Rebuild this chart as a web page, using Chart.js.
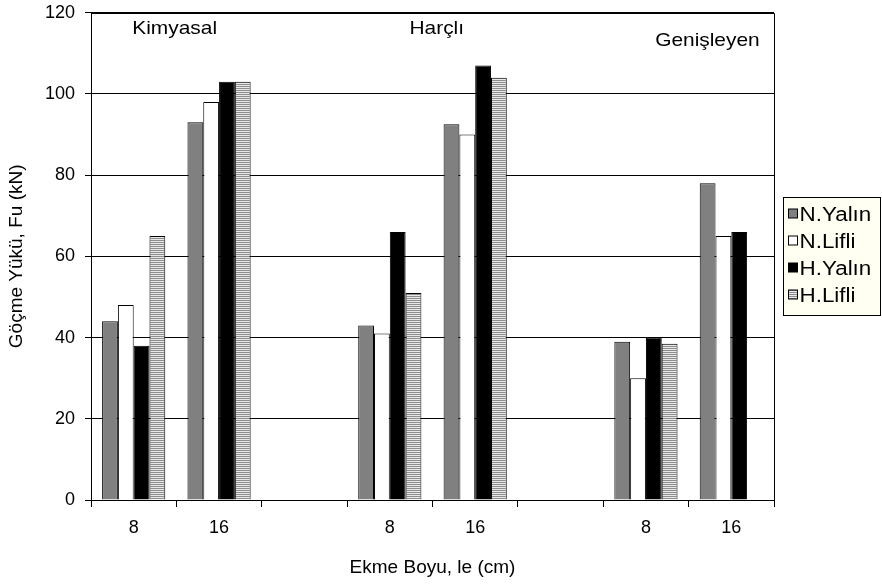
<!DOCTYPE html>
<html>
<head>
<meta charset="utf-8">
<script src="https://cdn.jsdelivr.net/npm/chart.js@4/dist/chart.umd.min.js"></script>
<style>
  html, body { margin: 0; padding: 0; background: #fff; }
  #wrap { width: 882px; height: 585px; position: relative; }
</style>
</head>
<body>
<div id="wrap"><canvas id="c" width="882" height="585"></canvas></div>
<script>
// Anchorage length categories (cm); empty slots separate the three anchor types
const categories = ['8', '16', '', '8', '16', '', '8', '16'];

// Failure load Fu (kN) per series
const nYalin = [44, 93, null, 43, 92.5, null, 39, 78];
const nLifli = [48, 98, null, 41, 90, null, 30, 65];
const hYalin = [38, 103, null, 66, 107, null, 40, 66];
const hLifli = [65, 103, null, 51, 104, null, 38.5, null];

const seriesNames = ['N.Yalın', 'N.Lifli', 'H.Yalın', 'H.Lifli'];
const groupNames = ['Kimyasal', 'Harçlı', 'Genişleyen'];
const yTicks = [0, 20, 40, 60, 80, 100, 120];

const FONT = '"Liberation Sans", Arial, sans-serif';

// Horizontal grey stripe fill
function stripeFill() {
  const c = document.createElement('canvas');
  c.width = 4; c.height = 2;
  const g = c.getContext('2d');
  g.fillStyle = '#e8e8e8'; g.fillRect(0, 0, 4, 2);
  g.fillStyle = '#8e8e8e'; g.fillRect(0, 0, 4, 1);
  return g.createPattern(c, 'repeat');
}
const stripes = stripeFill();
const fills = ['#808080', '#ffffff', '#000000', stripes];

// Text drawn slightly widened, anchored at (x, y)
function wideText(ctx, text, x, y, sx) {
  ctx.save();
  ctx.translate(x, y);
  ctx.scale(sx, 1);
  ctx.fillText(text, 0, 0);
  ctx.restore();
}

// Frame around the plot area plus the group captions
const framePlugin = {
  id: 'frame',
  afterDatasetsDraw(chart) {
    const { ctx, chartArea: a, scales } = chart;
    ctx.save();
    ctx.strokeStyle = '#000';
    ctx.lineWidth = 1;
    ctx.beginPath();
    ctx.moveTo(Math.round(a.left) + 0.5, Math.round(a.top) + 0.5);
    ctx.lineTo(Math.round(a.right) + 0.5, Math.round(a.top) + 0.5);
    ctx.lineTo(Math.round(a.right) + 0.5, Math.round(a.bottom) + 0.5);
    ctx.stroke();

    ctx.fillStyle = '#000';
    ctx.font = '19px ' + FONT;
    ctx.textAlign = 'center';
    ctx.textBaseline = 'middle';
    const spots = [[0.48, 116], [3.55, 116], [6.72, 113]];
    groupNames.forEach((t, i) => {
      wideText(ctx, t, scales.x.getPixelForValue(spots[i][0]), scales.y.getPixelForValue(spots[i][1]), 1.1);
    });
    ctx.restore();
  }
};

// Boxed legend on the right
const legendPlugin = {
  id: 'boxLegend',
  afterDraw(chart) {
    const { ctx, chartArea: a } = chart;
    const x0 = Math.round(a.right) + 9.5, y0 = 197.5, w = 97, h = 118;
    ctx.save();
    ctx.fillStyle = '#fffff2';
    ctx.fillRect(x0, y0, w, h);
    ctx.strokeStyle = '#000';
    ctx.lineWidth = 1;
    ctx.strokeRect(x0, y0, w, h);
    ctx.font = '20px ' + FONT;
    ctx.textBaseline = 'middle';
    ctx.textAlign = 'left';
    chart.data.datasets.forEach((ds, i) => {
      const cy = 214 + i * 27;
      ctx.fillStyle = ds.backgroundColor;
      ctx.fillRect(x0 + 5, cy - 5, 9, 9);
      ctx.strokeStyle = '#000';
      ctx.strokeRect(x0 + 5, cy - 5, 9, 9);
      ctx.fillStyle = '#000';
      wideText(ctx, ds.label, x0 + 16, cy + 1, 1.12);
    });
    ctx.restore();
  }
};

const seriesData = [nYalin, nLifli, hYalin, hLifli];

new Chart(document.getElementById('c'), {
  type: 'bar',
  data: {
    labels: categories,
    datasets: seriesData.map((d, i) => ({
      label: seriesNames[i],
      data: d,
      backgroundColor: fills[i],
      borderColor: '#000',
      borderWidth: 1,
      categoryPercentage: 0.74,
      barPercentage: 1
    }))
  },
  options: {
    responsive: false,
    animation: false,
    layout: { padding: { top: 0, right: 108, bottom: 0, left: 0 } },
    plugins: {
      legend: { display: false },
      tooltip: { enabled: false }
    },
    scales: {
      x: {
        grid: { drawOnChartArea: false, drawTicks: true, tickLength: 7, color: '#000', offset: true },
        border: { color: '#000', width: 1 },
        ticks: { color: '#000', font: { family: FONT, size: 18 }, padding: 10, maxRotation: 0, autoSkip: false },
        title: { display: true, text: 'Ekme Boyu, le (cm)', color: '#000', font: { family: FONT, size: 19 }, padding: { top: 0, bottom: 6 } },
        afterFit(s) { s.height = 85; }
      },
      y: {
        min: 0, max: 120,
        afterBuildTicks(s) { s.ticks = yTicks.map(v => ({ value: v })); },
        grid: { color: '#000', lineWidth: 1, tickLength: 6, drawTicks: true },
        border: { color: '#000', width: 1 },
        ticks: { color: '#000', font: { family: FONT, size: 18, lineHeight: 0.3 }, padding: 10 },
        title: { display: true, text: 'Göçme Yükü, Fu (kN)', color: '#000', font: { family: FONT, size: 19 }, padding: { top: 5, bottom: 0 } },
        afterFit(s) { s.width = 91; }
      }
    }
  },
  plugins: [framePlugin, legendPlugin]
});
</script>
</body>
</html>
